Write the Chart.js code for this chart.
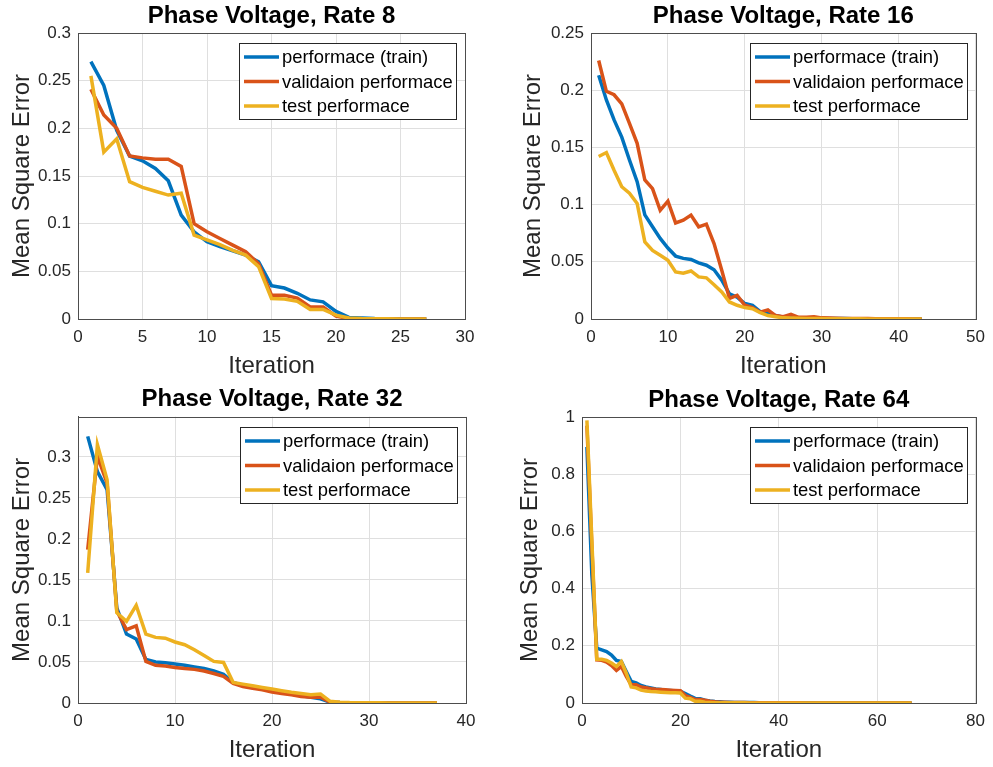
<!DOCTYPE html>
<html>
<head>
<meta charset="utf-8">
<script src="https://cdn.jsdelivr.net/npm/chart.js@4.4.0/dist/chart.umd.min.js"></script>
<style>
        body { margin: 0; background: #fff; overflow: hidden; }
        #wrap { position: relative; width: 993px; height: 767px; }
        canvas { position: absolute; }
</style>
</head>
<body>
<div id="wrap">
        <canvas id="chart_8" width="496" height="383" style="left:0;top:0"></canvas>
        <canvas id="chart_16" width="497" height="383" style="left:496px;top:0"></canvas>
        <canvas id="chart_32" width="496" height="384" style="left:0;top:383px"></canvas>
        <canvas id="chart_64" width="497" height="384" style="left:496px;top:383px"></canvas>
</div>
<script>
var series_names = ["performace (train)", "validaion performace", "test performace"];
var series_colors = ["#0072BD", "#D95319", "#EDB120"];

// Rate 8
var rate8_train = [0.270, 0.245, 0.198, 0.171, 0.166, 0.158, 0.145, 0.109, 0.0915, 0.081, 0.076, 0.0716, 0.067, 0.060, 0.035, 0.0325, 0.027, 0.020, 0.018, 0.008, 0.0017, 0.001, 0.0005, 0.0003, 0.0002, 0.0001, 0.0001];
var rate8_val = [0.241, 0.214, 0.200, 0.171, 0.169, 0.1675, 0.1675, 0.160, 0.100, 0.0915, 0.0845, 0.0775, 0.0705, 0.058, 0.025, 0.025, 0.022, 0.0126, 0.0126, 0.003, 0.0005, 0.0003, 0.0002, 0.0001, 0.0001, 0.0001, 0.0001];
var rate8_test = [0.255, 0.175, 0.189, 0.144, 0.138, 0.134, 0.130, 0.132, 0.088, 0.083, 0.078, 0.072, 0.067, 0.055, 0.0215, 0.021, 0.0185, 0.010, 0.010, 0.004, 0.001, 0.0005, 0.0003, 0.0002, 0.0001, 0.0001, 0.0001];

// Rate 16
var rate16_train = [0.213, 0.1915, 0.174, 0.159, 0.139, 0.120, 0.091, 0.0806, 0.0704, 0.062, 0.055, 0.053, 0.052, 0.049, 0.047, 0.043, 0.034, 0.022, 0.019, 0.0135, 0.012, 0.0065, 0.005, 0.003, 0.0015, 0.001, 0.001, 0.0008, 0.0007, 0.0006, 0.0005, 0.0004, 0.0004, 0.0003, 0.0003, 0.0002, 0.0002, 0.0002, 0.0001, 0.0001, 0.0001, 0.0001, 0.0001];
var rate16_val = [0.226, 0.199, 0.196, 0.188, 0.171, 0.1536, 0.1215, 0.114, 0.095, 0.103, 0.084, 0.0864, 0.0908, 0.0806, 0.0829, 0.066, 0.0426, 0.018, 0.0207, 0.012, 0.010, 0.006, 0.008, 0.003, 0.002, 0.004, 0.0015, 0.0015, 0.002, 0.001, 0.0008, 0.0006, 0.0005, 0.0005, 0.0004, 0.0004, 0.0003, 0.0003, 0.0002, 0.0002, 0.0002, 0.0001, 0.0001];
var rate16_test = [0.142, 0.1455, 0.130, 0.1156, 0.110, 0.101, 0.0674, 0.060, 0.0558, 0.0514, 0.0412, 0.040, 0.042, 0.0368, 0.036, 0.030, 0.0236, 0.0149, 0.012, 0.010, 0.009, 0.0055, 0.003, 0.002, 0.001, 0.0008, 0.0006, 0.0005, 0.0004, 0.0004, 0.0003, 0.0003, 0.0002, 0.0002, 0.0002, 0.0001, 0.0001, 0.0001, 0.0001, 0.0001, 0.0001, 0.0001, 0.0001];

// Rate 32
var rate32_train = [0.325, 0.282, 0.260, 0.116, 0.084, 0.078, 0.053, 0.050, 0.049, 0.0475, 0.046, 0.044, 0.042, 0.039, 0.035, 0.025, 0.021, 0.019, 0.017, 0.015, 0.013, 0.011, 0.009, 0.007, 0.005, 0.001, 0.0005, 0.0003, 0.0002, 0.0002, 0.0001, 0.0001, 0.0001, 0.0001, 0.0001, 0.0001, 0.0001];
var rate32_val = [0.187, 0.301, 0.268, 0.112, 0.0894, 0.094, 0.0507, 0.0459, 0.045, 0.0434, 0.042, 0.041, 0.039, 0.036, 0.0325, 0.024, 0.020, 0.018, 0.016, 0.0135, 0.0115, 0.010, 0.008, 0.007, 0.007, 0.001, 0.0005, 0.0003, 0.0002, 0.0002, 0.0001, 0.0001, 0.0001, 0.0001, 0.0001, 0.0001, 0.0001];
var rate32_test = [0.1585, 0.315, 0.272, 0.110, 0.0995, 0.119, 0.084, 0.080, 0.079, 0.0744, 0.071, 0.065, 0.058, 0.0507, 0.0495, 0.025, 0.023, 0.021, 0.019, 0.017, 0.015, 0.013, 0.0115, 0.010, 0.011, 0.002, 0.001, 0.0005, 0.0003, 0.0002, 0.0002, 0.0001, 0.0001, 0.0001, 0.0001, 0.0001, 0.0001];

// Rate 64
var rate64_train = [0.895, 0.45, 0.192, 0.186, 0.180, 0.168, 0.149, 0.145, 0.110, 0.0756, 0.070, 0.061, 0.056, 0.053, 0.049, 0.047, 0.045, 0.044, 0.042, 0.041, 0.033, 0.024, 0.016, 0.015, 0.010, 0.007, 0.005, 0.004, 0.003, 0.003, 0.002, 0.002, 0.002, 0.0015, 0.0015, 0.001, 0.001, 0.001, 0.001, 0.0008, 0.0008, 0.0007, 0.0006, 0.0006, 0.0005, 0.0005, 0.0005, 0.0004, 0.0004, 0.0004, 0.0003, 0.0003, 0.0003, 0.0003, 0.0002, 0.0002, 0.0002, 0.0002, 0.0002, 0.0002, 0.0001, 0.0001, 0.0001, 0.0001, 0.0001, 0.0001, 0.0001];
var rate64_val = [0.97, 0.55, 0.151, 0.149, 0.143, 0.131, 0.114, 0.128, 0.093, 0.064, 0.064, 0.056, 0.053, 0.050, 0.048, 0.047, 0.046, 0.045, 0.044, 0.043, 0.026, 0.020, 0.012, 0.012, 0.010, 0.006, 0.004, 0.003, 0.003, 0.002, 0.002, 0.0015, 0.0015, 0.001, 0.001, 0.001, 0.0008, 0.0008, 0.0007, 0.0007, 0.0006, 0.0006, 0.0005, 0.0005, 0.0004, 0.0004, 0.0004, 0.0003, 0.0003, 0.0003, 0.0003, 0.0002, 0.0002, 0.0002, 0.0002, 0.0002, 0.0002, 0.0001, 0.0001, 0.0001, 0.0001, 0.0001, 0.0001, 0.0001, 0.0001, 0.0001, 0.0001];
var rate64_test = [0.988, 0.57, 0.153, 0.153, 0.149, 0.140, 0.128, 0.145, 0.104, 0.056, 0.053, 0.045, 0.042, 0.040, 0.039, 0.038, 0.037, 0.036, 0.036, 0.035, 0.017, 0.015, 0.006, 0.006, 0.003, 0.002, 0.001, 0.001, 0.0008, 0.0007, 0.0006, 0.0005, 0.0005, 0.0004, 0.0004, 0.0003, 0.0003, 0.0003, 0.0002, 0.0002, 0.0002, 0.0002, 0.0002, 0.0001, 0.0001, 0.0001, 0.0001, 0.0001, 0.0001, 0.0001, 0.0001, 0.0001, 0.0001, 0.0001, 0.0001, 0.0001, 0.0001, 0.0001, 0.0001, 0.0001, 0.0001, 0.0001, 0.0001, 0.0001, 0.0001, 0.0001, 0.0001];

var font_family = "'Liberation Sans', Arial, Helvetica, sans-serif";

// axis box, title over the plot area and legend inside it, matlab style
var box_and_legend = {
        id: "box_and_legend",
        afterDatasetsDraw(chart, args, options) {
                var ctx = chart.ctx;
                var area = chart.chartArea;
                ctx.save();
                ctx.strokeStyle = "#4d4d4d";
                ctx.lineWidth = 1;
                ctx.strokeRect(Math.round(area.left) + 0.5, Math.round(area.top) + 0.5,
                        Math.round(area.right - area.left), Math.round(area.bottom - area.top));

                ctx.fillStyle = "#000";
                ctx.font = "bold 24px " + font_family;
                ctx.textAlign = "center";
                ctx.textBaseline = "middle";
                ctx.fillText(options.title, (area.left + area.right) / 2, area.top - 17);

                var w = 217, h = 76;
                var x = Math.round(area.right - 9 - w);
                var y = Math.round(area.top + 10);
                ctx.fillStyle = "#fff";
                ctx.fillRect(x, y, w, h);
                ctx.strokeStyle = "#262626";
                ctx.strokeRect(x + 0.5, y + 0.5, w, h);
                ctx.font = "18.4px " + font_family;
                ctx.textAlign = "left";
                chart.data.datasets.forEach(function(ds, i) {
                        var ly = y + 14 + i * 24.5;
                        ctx.strokeStyle = ds.borderColor;
                        ctx.lineWidth = 3.5;
                        ctx.beginPath();
                        ctx.moveTo(x + 5, ly);
                        ctx.lineTo(x + 40, ly);
                        ctx.stroke();
                        ctx.fillStyle = "#000";
                        ctx.fillText(ds.label, x + 43, ly + 1);
                });
                ctx.restore();
        }
};

function to_points(values) {
        return values.map(function(v, i) { return { x: i + 1, y: v }; });
}

function init_chart_rate(name, title, series, opt) {
        var datasets = series.map(function(values, i) {
                return {
                        label: series_names[i],
                        data: to_points(values),
                        borderColor: series_colors[i],
                        backgroundColor: series_colors[i],
                        borderWidth: 3.5,
                        pointRadius: 0,
                        tension: 0,
                        fill: false,
                        order: 3 - i
                };
        });

        new Chart(name, {
                type: "line",
                data: { datasets: datasets },
                options: {
                        responsive: false,
                        animation: false,
                        devicePixelRatio: 1,
                        layout: { padding: { top: opt.pad_top, left: 0, bottom: 0, right: opt.pad_right } },
                        plugins: {
                                legend: { display: false },
                                tooltip: { enabled: false },
                                title: { display: false },
                                box_and_legend: { title: title }
                        },
                        scales: {
                                x: {
                                        type: "linear",
                                        min: 0,
                                        max: opt.x_max,
                                        ticks: {
                                                stepSize: opt.x_step,
                                                color: "#262626",
                                                font: { family: font_family, size: 17 },
                                                padding: 8,
                                                maxRotation: 0
                                        },
                                        grid: { color: "#dfdfdf", drawTicks: false },
                                        border: { color: "#4d4d4d" },
                                        title: {
                                                display: true,
                                                text: "Iteration",
                                                color: "#262626",
                                                font: { family: font_family, size: 24 },
                                                padding: { top: 0, bottom: 2.6 }
                                        },
                                        afterFit: function(scale) { scale.height = opt.x_height; }
                                },
                                y: {
                                        min: 0,
                                        max: opt.y_max,
                                        ticks: {
                                                stepSize: opt.y_step,
                                                color: "#262626",
                                                font: { family: font_family, size: 17 },
                                                padding: 7,
                                                callback: function(v) { return String(parseFloat(v.toFixed(3))); }
                                        },
                                        afterBuildTicks: function(scale) {
                                                // matlab does not label the top limit when it is off-step
                                                scale.ticks = scale.ticks.filter(function(t) {
                                                        return Math.abs(t.value / opt.y_step - Math.round(t.value / opt.y_step)) < 1e-6;
                                                });
                                        },
                                        grid: { color: "#dfdfdf", drawTicks: false },
                                        border: { color: "#4d4d4d" },
                                        title: {
                                                display: true,
                                                text: "Mean Square Error",
                                                color: "#262626",
                                                font: { family: font_family, size: 24 },
                                                padding: { top: opt.y_title_pad, bottom: 0 }
                                        },
                                        afterFit: function(scale) { scale.width = opt.y_width; }
                                }
                        }
                },
                plugins: [box_and_legend]
        });
}

init_chart_rate("chart_8", "Phase Voltage, Rate 8", [rate8_train, rate8_val, rate8_test],
        { x_max: 30, x_step: 5, y_max: 0.3, y_step: 0.05, y_width: 78, x_height: 64, pad_top: 33, pad_right: 31, y_title_pad: 7.6 });
init_chart_rate("chart_16", "Phase Voltage, Rate 16", [rate16_train, rate16_val, rate16_test],
        { x_max: 50, x_step: 10, y_max: 0.25, y_step: 0.05, y_width: 95, x_height: 64, pad_top: 33, pad_right: 13, y_title_pad: 22.6 });
init_chart_rate("chart_32", "Phase Voltage, Rate 32", [rate32_train, rate32_val, rate32_test],
        { x_max: 40, x_step: 10, y_max: 0.349, y_step: 0.05, y_width: 78, x_height: 64, pad_top: 33.7, pad_right: 30, y_title_pad: 7.6 });
init_chart_rate("chart_64", "Phase Voltage, Rate 64", [rate64_train, rate64_val, rate64_test],
        { x_max: 80, x_step: 20, y_max: 1, y_step: 0.2, y_width: 86, x_height: 64, pad_top: 34, pad_right: 16, y_title_pad: 19.6 });
</script>
</body>
</html>
